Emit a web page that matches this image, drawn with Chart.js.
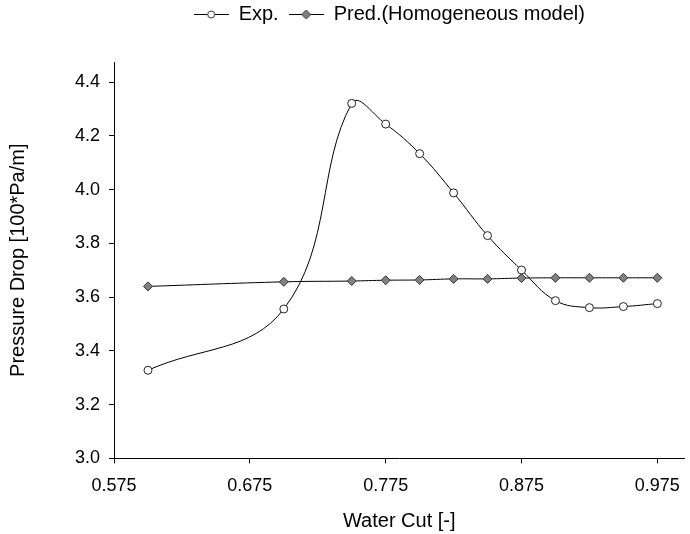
<!DOCTYPE html>
<html>
<head>
<meta charset="utf-8">
<title>Pressure Drop vs Water Cut</title>
<script src="https://cdn.jsdelivr.net/npm/chart.js@4/dist/chart.umd.min.js"></script>
<style>
    html, body { margin: 0; padding: 0; background: #fff; }
    .chart-box { width: 690px; height: 534px; position: relative; }
</style>
</head>
<body>
<div class="chart-box"><canvas id="dpChart"></canvas></div>
<script>
// Data
const waterCut = [0.600, 0.700, 0.750, 0.775, 0.800, 0.825, 0.850, 0.875, 0.900, 0.925, 0.950, 0.975];
const expDrop  = [3.328, 3.556, 4.321, 4.244, 4.134, 3.988, 3.829, 3.701, 3.587, 3.561, 3.565, 3.576];
const predDrop = [3.640, 3.657, 3.660, 3.663, 3.664, 3.668, 3.668, 3.671, 3.672, 3.672, 3.672, 3.672];
const xTicks = [0.575, 0.675, 0.775, 0.875, 0.975];
const yTicks = [3.0, 3.2, 3.4, 3.6, 3.8, 4.0, 4.2, 4.4];

const FONT = "'Liberation Sans', Arial, sans-serif";

function toPoints(xs, ys) {
    return xs.map((x, i) => ({ x: x, y: ys[i] }));
}

// legend swatch: short line with the marker in the middle
function legendSwatch(kind) {
    const c = document.createElement('canvas');
    c.width = 35;
    c.height = 12;
    const g = c.getContext('2d');
    g.strokeStyle = '#000';
    g.lineWidth = 1;
    g.beginPath();
    g.moveTo(0, 6.5);
    g.lineTo(35, 6.5);
    g.stroke();
    g.beginPath();
    if (kind === 'circle') {
        g.arc(17.5, 6.5, 3.5, 0, Math.PI * 2);
        g.fillStyle = '#fff';
    } else {
        g.moveTo(17.5, 2); g.lineTo(22, 6.5); g.lineTo(17.5, 11); g.lineTo(13, 6.5); g.closePath();
        g.fillStyle = '#808080';
    }
    g.fill();
    g.strokeStyle = '#333';
    g.stroke();
    return c;
}
const swatches = [legendSwatch('circle'), legendSwatch('diamond')];

// leave room between the legend and the plot, nudge legend a bit left
const legendGap = {
    id: 'legendGap',
    beforeInit(chart) {
        const fit = chart.legend.fit;
        chart.legend.fit = function () {
            fit.bind(chart.legend)();
            this.height += 28;
        };
    },
    afterLayout(chart) {
        chart.legend.left -= 20;
    }
};

const ctx = document.getElementById('dpChart').getContext('2d');
const dpChart = new Chart(ctx, {
    type: 'line',
    data: {
        datasets: [{
            label: 'Exp.',
            data: toPoints(waterCut, expDrop),
            borderColor: '#000',
            borderWidth: 1,
            backgroundColor: '#fff',
            pointStyle: 'circle',
            pointRadius: 4,
            pointBorderColor: '#222',
            pointBorderWidth: 1,
            pointBackgroundColor: '#fff',
            tension: 0.4,
            order: 1
        }, {
            label: 'Pred.(Homogeneous model)',
            data: toPoints(waterCut, predDrop),
            borderColor: '#000',
            borderWidth: 1,
            backgroundColor: '#808080',
            pointStyle: 'rectRot',
            pointRadius: 4.5,
            pointBorderColor: '#333',
            pointBorderWidth: 1,
            pointBackgroundColor: '#808080',
            tension: 0.4,
            order: 2
        }]
    },
    options: {
        responsive: true,
        maintainAspectRatio: false,
        animation: false,
        layout: { padding: { left: 4, right: 0, top: -6, bottom: 1 } },
        scales: {
            x: {
                type: 'linear',
                min: 0.575,
                max: 0.995,
                afterBuildTicks: axis => { axis.ticks = xTicks.map(v => ({ value: v })); },
                afterFit: axis => { axis.paddingRight = 2; },
                ticks: {
                    color: '#000',
                    font: { family: FONT, size: 18 },
                    padding: 12,
                    maxRotation: 0,
                    autoSkip: false,
                    callback: v => Number(v).toFixed(3)
                },
                grid: { drawOnChartArea: false, drawTicks: true, tickLength: 5, color: '#000' },
                border: { color: '#000', width: 1 },
                title: {
                    display: true,
                    text: 'Water Cut [-]',
                    color: '#000',
                    font: { family: FONT, size: 20 },
                    padding: { top: 0, bottom: 0 }
                }
            },
            y: {
                type: 'linear',
                min: 3.0,
                max: 4.475,
                afterBuildTicks: axis => { axis.ticks = yTicks.map(v => ({ value: v })); },
                ticks: {
                    color: '#000',
                    font: { family: FONT, size: 18 },
                    padding: 9,
                    callback: v => Number(v).toFixed(1)
                },
                grid: { drawOnChartArea: false, drawTicks: true, tickLength: 5, color: '#000' },
                border: { color: '#000', width: 1 },
                title: {
                    display: true,
                    text: 'Pressure Drop [100*Pa/m]',
                    color: '#000',
                    font: { family: FONT, size: 20 },
                    padding: { top: 2, bottom: 36 }
                }
            }
        },
        plugins: {
            legend: {
                position: 'top',
                fullSize: false,
                labels: {
                    color: '#000',
                    font: { family: FONT, size: 20 },
                    usePointStyle: true,
                    pointStyleWidth: 35,
                    boxHeight: 12,
                    padding: 10,
                    generateLabels: chart => chart.data.datasets.map((ds, i) => ({
                        text: ds.label,
                        pointStyle: swatches[i],
                        fillStyle: '#fff',
                        strokeStyle: '#000',
                        lineWidth: 0,
                        hidden: false,
                        datasetIndex: i,
                        fontColor: '#000'
                    }))
                }
            },
            tooltip: { enabled: false }
        }
    },
    plugins: [legendGap]
});
</script>
</body>
</html>
